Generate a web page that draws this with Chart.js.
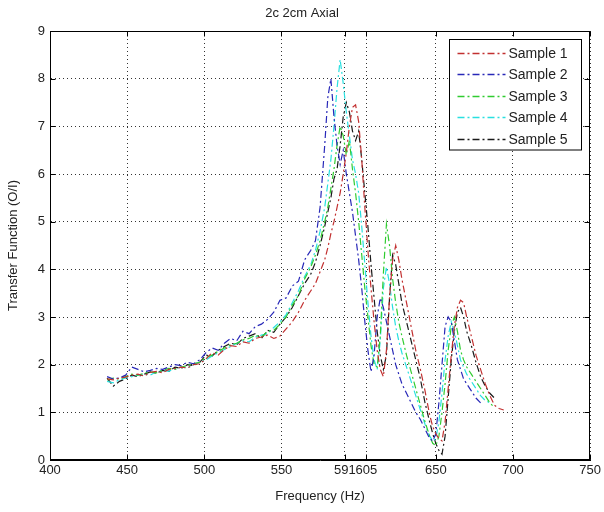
<!DOCTYPE html>
<html>
<head>
<meta charset="utf-8">
<script src="https://cdn.jsdelivr.net/npm/chart.js@4.4.1/dist/chart.umd.min.js"></script>
<style>
  html, body { margin: 0; padding: 0; background: #fff; }
  #chart { display: block; }
</style>
</head>
<body>
<canvas id="chart" width="604" height="512"></canvas>
<script>
// Transfer function, 2c 2cm axial - five samples

const xTicks = [400, 450, 500, 550, 591, 605, 650, 700, 750];

const freqs = [
    437, 441, 445, 449, 453, 457, 461, 465, 469, 473, 477, 481, 485, 489, 493, 497, 501,
    505, 509, 513, 517, 521, 525, 529, 533, 537, 541, 545, 549, 553, 557, 561, 565, 569,
    572, 575, 578,
    580, 582, 584, 586, 588, 590, 592, 594, 596, 598, 600, 602, 604, 606, 608, 610, 612,
    614, 616, 618, 620, 622, 624, 626, 628,
    631, 634, 637, 640, 643, 646,
    648, 650, 652, 654, 656, 658, 660, 662, 664, 666, 668, 670,
    673, 676, 679, 682, 685, 688, 691, 694,
];

const sample1 = [
    1.70, 1.68, 1.72, 1.74, 1.78, 1.80, 1.76, 1.84, 1.86, 1.83, 1.90, 1.92, 1.95, 1.93, 2.00, 2.02, 2.12,
    2.25, 2.20, 2.32, 2.40, 2.38, 2.48, 2.45, 2.55, 2.58, 2.62, 2.55, 2.60, 2.75, 2.90, 3.10, 3.35, 3.55,
    3.70, 3.95, 4.20,
    4.45, 4.75, 5.00, 5.30, 5.60, 6.00, 6.45, 7.00, 7.40, 7.45, 7.10, 6.30, 5.30, 4.40, 3.60, 2.90, 2.30,
    1.90, 1.75, 2.30, 3.40, 4.20, 4.50, 4.20, 3.80,
    3.30, 2.80, 2.30, 1.90, 1.45, 0.95,
    0.70, 0.55, 0.45, 0.40, 0.80, 1.50, 2.20, 2.80, 3.20, 3.35, 3.30, 3.00,
    2.60, 2.20, 1.90, 1.60, 1.35, 1.15, 1.08, 1.05,
];

const sample2 = [
    1.75, 1.70, 1.72, 1.78, 1.95, 1.90, 1.85, 1.88, 1.92, 1.90, 1.95, 2.00, 1.98, 2.05, 2.02, 2.10, 2.25,
    2.35, 2.30, 2.45, 2.55, 2.50, 2.70, 2.65, 2.80, 2.85, 2.95, 3.10, 3.35, 3.40, 3.65, 3.75, 4.20, 4.40,
    4.60, 5.30, 6.60,
    7.60, 8.00, 7.20, 6.60, 6.20, 6.50, 6.00, 5.60, 5.20, 4.70, 4.20, 3.60, 2.90, 2.30, 1.85, 2.20, 3.00,
    3.40, 3.20, 2.90, 2.60, 2.30, 2.00, 1.80, 1.60,
    1.40, 1.20, 1.00, 0.85, 0.65, 0.45,
    0.40, 0.55, 1.20, 2.00, 2.80, 3.00, 2.90, 2.50, 2.10, 1.90, 1.70, 1.60,
    1.45, 1.30, 1.20, null, null, null, null, null,
];

const sample3 = [
    1.68, 1.72, 1.70, 1.75, 1.80, 1.78, 1.82, 1.85, 1.83, 1.88, 1.92, 1.90, 1.95, 1.98, 2.02, 2.05, 2.15,
    2.20, 2.28, 2.35, 2.42, 2.45, 2.52, 2.55, 2.62, 2.58, 2.70, 2.72, 2.85, 3.00, 3.25, 3.45, 3.80, 4.05,
    4.30, 4.60, 5.00,
    5.30, 5.70, 6.10, 6.60, 7.00, 6.80, 6.40, 6.70, 6.10, 5.60, 5.00, 4.30, 3.60, 3.00, 2.40, 2.00, 1.95,
    2.60, 3.90, 4.95, 4.50, 3.80, 3.30, 2.90, 2.60,
    2.20, 1.85, 1.50, 1.15, 0.80, 0.50,
    0.35, 0.30, 0.50, 1.00, 1.60, 2.30, 2.80, 3.00, 2.70, 2.30, 2.10, 1.95,
    1.80, 1.65, 1.50, 1.35, 1.20, 1.10, null, null,
];

const sample4 = [
    1.65, 1.62, 1.68, 1.72, 1.75, 1.78, 1.80, 1.78, 1.85, 1.88, 1.86, 1.92, 1.95, 1.93, 2.00, 2.05, 2.10,
    2.18, 2.25, 2.32, 2.38, 2.45, 2.50, 2.48, 2.58, 2.62, 2.65, 2.78, 2.90, 3.05, 3.30, 3.55, 3.85, 4.10,
    4.40, 4.80, 5.30,
    5.80, 6.30, 7.00, 7.80, 8.40, 7.90, 7.30, 6.80, 6.30, 6.00, 5.60, 4.90, 4.10, 3.30, 2.60, 2.10, 1.90,
    2.50, 3.60, 4.05, 3.70, 3.20, 2.80, 2.50, 2.25,
    1.95, 1.65, 1.35, 1.05, 0.75, 0.50,
    0.40, 0.45, 0.80, 1.40, 2.10, 2.60, 2.90, 2.70, 2.40, 2.10, 1.95, 1.80,
    1.65, 1.50, 1.35, 1.25, 1.20, null, null, null,
];

const sample5 = [
    1.72, 1.55, 1.65, 1.70, 1.78, 1.75, 1.80, 1.85, 1.82, 1.88, 1.86, 1.95, 1.92, 2.00, 1.98, 2.05, 2.20,
    2.18, 2.30, 2.38, 2.45, 2.42, 2.55, 2.60, 2.65, 2.55, 2.72, 2.68, 2.85, 3.00, 3.20, 3.45, 3.70, 3.90,
    4.15, 4.50, 4.90,
    5.20, 5.50, 5.90, 6.10, 6.60, 7.20, 7.50, 7.30, 6.90, 6.70, 6.90, 6.30, 5.60, 4.90, 4.10, 3.40, 2.70,
    2.20, 1.90, 2.20, 3.40, 4.30, 4.10, 3.70, 3.30,
    2.90, 2.50, 2.10, 1.70, 1.20, 0.80,
    0.55, 0.35, 0.20, 0.12, 0.50, 1.30, 2.10, 2.70, 3.10, 3.20, 3.00, 2.70,
    2.40, 2.05, 1.75, 1.55, 1.40, 1.30, null, null,
];

const sampleLabels = ['Sample 1', 'Sample 2', 'Sample 3', 'Sample 4', 'Sample 5'];
const sampleValues = [sample1, sample2, sample3, sample4, sample5];
const sampleColors = ['#c23030', '#2828b8', '#30cc30', '#28e0e0', '#1a1a1a'];

const FONT = "'Liberation Sans', Arial, sans-serif";
const TEXT = '#222';
const DASHDOT = [7, 3, 2, 3];

// MATLAB-ish frame: full box with inward ticks
const framePlugin = {
    id: 'frame',
    afterDatasetsDraw(chart) {
        const { ctx, chartArea: a, scales: { x, y } } = chart;
        const l = Math.round(a.left) + 0.5, r = Math.round(a.right) - 0.5;
        const t = Math.round(a.top) + 0.5, b = Math.round(a.bottom) - 0.5;
        ctx.save();
        ctx.strokeStyle = '#000';
        ctx.lineWidth = 1;
        ctx.setLineDash([]);
        ctx.strokeRect(l, t, r - l, b - t);
        ctx.beginPath();
        x.ticks.forEach(tk => {
            const px = Math.round(x.getPixelForValue(tk.value)) + 0.5;
            ctx.moveTo(px, b); ctx.lineTo(px, b - 5);
            ctx.moveTo(px, t); ctx.lineTo(px, t + 5);
        });
        y.ticks.forEach(tk => {
            const py = Math.round(y.getPixelForValue(tk.value)) + 0.5;
            ctx.moveTo(l, py); ctx.lineTo(l + 5, py);
            ctx.moveTo(r, py); ctx.lineTo(r - 5, py);
        });
        ctx.stroke();
        ctx.restore();
    },
};

// legend box inside the plot, top right
const legendBoxPlugin = {
    id: 'legendBox',
    afterDraw(chart) {
        const { ctx, chartArea: a } = chart;
        const sets = chart.data.datasets;
        const w = 132, rowH = 21.5;
        const h = sets.length * rowH + 3;
        const bx = Math.round(a.right - 9 - w) + 0.5;
        const by = Math.round(a.top + 8) + 0.5;
        ctx.save();
        ctx.fillStyle = '#fff';
        ctx.fillRect(bx, by, w, h);
        ctx.strokeStyle = '#000';
        ctx.lineWidth = 1;
        ctx.strokeRect(bx, by, w, h);
        ctx.font = '14px ' + FONT;
        ctx.textBaseline = 'middle';
        sets.forEach((ds, i) => {
            const cy = Math.round(by + 13 + i * rowH) + 0.5;
            ctx.strokeStyle = ds.borderColor;
            ctx.lineWidth = 1.3;
            ctx.setLineDash(ds.borderDash);
            ctx.beginPath();
            ctx.moveTo(bx + 8, cy);
            ctx.lineTo(bx + 56, cy);
            ctx.stroke();
            ctx.setLineDash([]);
            ctx.fillStyle = TEXT;
            ctx.fillText(ds.label, bx + 59, cy + 1);
        });
        ctx.restore();
    },
};

new Chart(document.getElementById('chart'), {
    type: 'line',
    data: {
        datasets: sampleLabels.map((label, i) => ({
            label,
            data: freqs.map((f, j) => ({ x: f, y: sampleValues[i][j] })),
            borderColor: sampleColors[i],
            backgroundColor: sampleColors[i],
            borderWidth: 1.2,
            borderDash: DASHDOT,
            pointRadius: 0,
            tension: 0,
            fill: false,
            spanGaps: false,
        })),
    },
    options: {
        responsive: false,
        animation: false,
        layout: { padding: 0 },
        plugins: {
            legend: { display: false },
            tooltip: { enabled: false },
            title: {
                display: true,
                text: '2c 2cm Axial',
                color: TEXT,
                font: { family: FONT, size: 13, weight: 'normal' },
                padding: { top: 6, bottom: 9.4 },
            },
        },
        scales: {
            x: {
                type: 'linear',
                min: 400,
                max: 750,
                afterBuildTicks: (s) => { s.ticks = xTicks.map(v => ({ value: v })); },
                afterFit: (s) => { s.height = 52; },
                ticks: {
                    color: TEXT,
                    font: { family: FONT, size: 13 },
                    padding: 3,
                    autoSkip: false,
                    maxRotation: 0,
                },
                grid: { color: '#333', lineWidth: 1, drawTicks: false },
                border: { display: true, color: '#000', width: 1, dash: [1, 3] },
                title: {
                    display: true,
                    text: 'Frequency (Hz)',
                    color: TEXT,
                    font: { family: FONT, size: 13 },
                    padding: { top: 0, bottom: 8 },
                },
            },
            y: {
                min: 0,
                max: 9,
                afterFit: (s) => { s.width = 50; },
                ticks: {
                    stepSize: 1,
                    color: TEXT,
                    font: { family: FONT, size: 13 },
                    padding: 5,
                },
                grid: { color: '#333', lineWidth: 1, drawTicks: false },
                border: { display: true, color: '#000', width: 1, dash: [1, 3] },
                title: {
                    display: true,
                    text: 'Transfer Function (O/I)',
                    color: TEXT,
                    font: { family: FONT, size: 13 },
                    padding: { top: 6, bottom: 0 },
                },
            },
        },
    },
    plugins: [framePlugin, legendBoxPlugin],
});
</script>
</body>
</html>
